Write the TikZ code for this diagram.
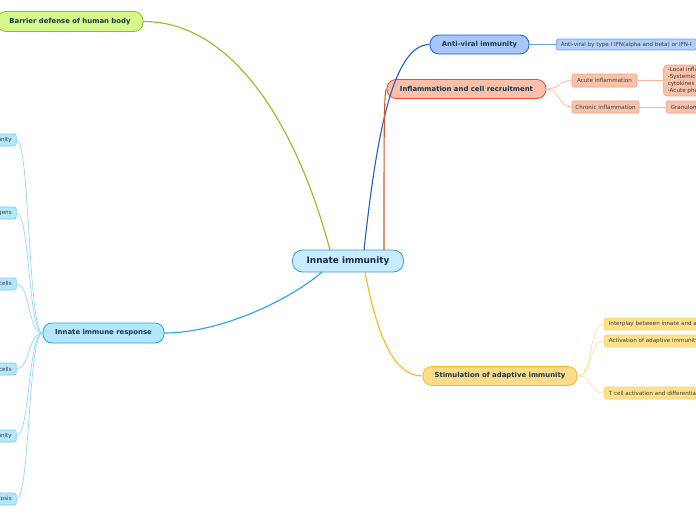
\documentclass[tikz,border=0pt]{standalone}
\usepackage{fontspec}
\setmainfont{DejaVu Sans}
\definecolor{txtdark}{HTML}{17394A}
\definecolor{txtcen}{HTML}{15284F}
\definecolor{txtch}{HTML}{3A3A3A}
\definecolor{grfill}{HTML}{D6F78A}\definecolor{grline}{HTML}{8DBE1E}
\definecolor{cefill}{HTML}{C8ECFC}\definecolor{celine}{HTML}{3A9AD9}
\definecolor{avfill}{HTML}{A6C8F8}\definecolor{avline}{HTML}{1E5FD4}
\definecolor{avcfill}{HTML}{B0D0FA}\definecolor{avcline}{HTML}{6AA0F0}
\definecolor{infill}{HTML}{F9BFA8}\definecolor{inline}{HTML}{E8502A}
\definecolor{incfill}{HTML}{F9C2AA}\definecolor{incline}{HTML}{F4A080}\definecolor{inconn}{HTML}{F8B8A0}
\definecolor{stfill}{HTML}{FCDC8A}\definecolor{stline}{HTML}{F8B81A}
\definecolor{stcfill}{HTML}{FDE08C}\definecolor{stcline}{HTML}{FCD070}\definecolor{stconn}{HTML}{FDE0A0}
\definecolor{irfill}{HTML}{B4E6FC}\definecolor{irline}{HTML}{1EA8E8}
\definecolor{ircline}{HTML}{70D0F8}\definecolor{irconn}{HTML}{90D8F8}
\tikzset{
  primary/.style={draw, line width=0.8pt, rounded corners=9pt, inner sep=0pt, text=txtdark,
    font=\fontsize{6.9}{8}\selectfont\bfseries},
  central/.style={draw=celine, fill=cefill, line width=0.8pt, rounded corners=10pt, inner sep=0pt,
    text=txtcen, font=\fontsize{8.9}{10}\selectfont\bfseries, minimum width=111pt, minimum height=22pt},
  childbox/.style={draw, line width=0.6pt, rounded corners=2pt, inner sep=0pt, inner xsep=4.5pt,
    minimum height=12pt, text=txtch, font=\fontsize{5.6}{6.5}\selectfont},
  conn/.style={line width=1.1pt},
  sub/.style={line width=0.7pt}
}
\begin{document}
\begin{tikzpicture}[x=1pt,y=-1pt]
\useasboundingbox (0,0) rectangle (696,520);
% central
\node[central] (cen) at (348,261) {Innate immunity};
% primaries
\node[primary, draw=grline, fill=grfill, minimum width=146pt, minimum height=20pt] (bar) at (70,21.5) {Barrier defense of human body};
\node[primary, draw=avline, fill=avfill, minimum width=99pt, minimum height=19pt] (av) at (479.5,44.5) {Anti-viral immunity};
\node[primary, draw=inline, fill=infill, minimum width=159pt, minimum height=19pt] (inf) at (466.5,89) {Inflammation and cell recruitment};
\node[primary, draw=stline, fill=stfill, minimum width=154pt, minimum height=19pt] (st) at (500,376) {Stimulation of adaptive immunity};
\node[primary, draw=irline, fill=irfill, minimum width=121pt, minimum height=20pt] (ir) at (103.5,333) {Innate immune response};
% anti-viral child
\node[childbox, draw=avcline, fill=avcfill, anchor=west, minimum height=11pt] (avc) at (556,44.5) {Anti-viral by type I IFN(alpha and beta) or IFN-I};
% inflammation children
\node[childbox, draw=incline, fill=incfill, minimum width=65pt, minimum height=13pt, inner xsep=0pt] (acu) at (604.5,80.5) {Acute inflammation};
\node[childbox, draw=incline, fill=incfill, minimum width=67pt, minimum height=12pt, inner xsep=0pt] (chr) at (605.5,107) {Chronic inflammation};
\node[childbox, draw=incline, fill=incfill, anchor=west, rounded corners=4pt, minimum height=31pt, align=left,
  font=\fontsize{5.6}{7}\selectfont] (loc) at (663,80.5) {-Local inflammation\\-Systemic protective effects of\\cytokines\\-Acute phase response};
\node[childbox, draw=incline, fill=incfill, anchor=west] (gra) at (666,107) {Granuloma};
% stimulation children
\node[childbox, draw=stcline, fill=stcfill, anchor=west] (s1) at (604,324) {Interplay between innate and adaptive immunity};
\node[childbox, draw=stcline, fill=stcfill, anchor=west] (s2) at (604,341) {Activation of adaptive immunity};
\node[childbox, draw=stcline, fill=stcfill, anchor=west] (s3) at (604,393) {T cell activation and differentiation};
% innate immune response children
\node[childbox, draw=ircline, fill=irfill, anchor=east] (r1) at (16.5,140) {Features of innate immunity};
\node[childbox, draw=ircline, fill=irfill, anchor=east] (r2) at (16.5,213) {Recognition of pathogens};
\node[childbox, draw=ircline, fill=irfill, anchor=east] (r3) at (16.5,284) {Phagocytes and dendritic cells};
\node[childbox, draw=ircline, fill=irfill, anchor=east] (r4) at (16.5,369) {Natural killer cells};
\node[childbox, draw=ircline, fill=irfill, anchor=east] (r5) at (16.5,436) {Complement in innate immunity};
\node[childbox, draw=ircline, fill=irfill, anchor=east] (r6) at (16.5,499) {Phagocytosis};
% coordinates on the central node
\coordinate (cg) at (330,250);
\coordinate (cb) at (364,250);
\coordinate (cr) at (384,250);
\coordinate (co) at (365,272);
\coordinate (cl) at (322,272);
% main connectors
\draw[conn, grline] (cg) .. controls (298,130) and (235,21.5) .. (bar.east);
\draw[conn, avline] (cb) .. controls (376,140) and (392,44.5) .. (av.west);
\draw[conn, inline] (cr) .. controls (384,130) and (384,89) .. (inf.west);
\draw[conn, stline] (co) .. controls (378,340) and (395,376) .. (st.west);
\draw[conn, irline] (cl) .. controls (290,300) and (220,333) .. (ir.east);
% sub connectors
\draw[sub, avcline] (av.east) -- (avc.west);
\draw[sub, inconn] (inf.east) .. controls (560,89) and (558,80.5) .. (acu.west);
\draw[sub, inconn] (inf.east) .. controls (560,89) and (558,107) .. (chr.west);
\draw[sub, inconn] (acu.east) -- (loc.west);
\draw[sub, inconn] (chr.east) -- (gra.west);
\draw[sub, stconn] (st.east) .. controls (594,376) and (588,324) .. (s1.west);
\draw[sub, stconn] (st.east) .. controls (594,376) and (588,341) .. (s2.west);
\draw[sub, stconn] (st.east) .. controls (594,376) and (588,393) .. (s3.west);
\foreach \r in {r1,r2,r3,r4,r5,r6}{
  \draw[sub, irconn] (\r.east) .. controls (30,0 |- \r.east) and (28,333) .. (ir.west);
}
\end{tikzpicture}
\end{document}
